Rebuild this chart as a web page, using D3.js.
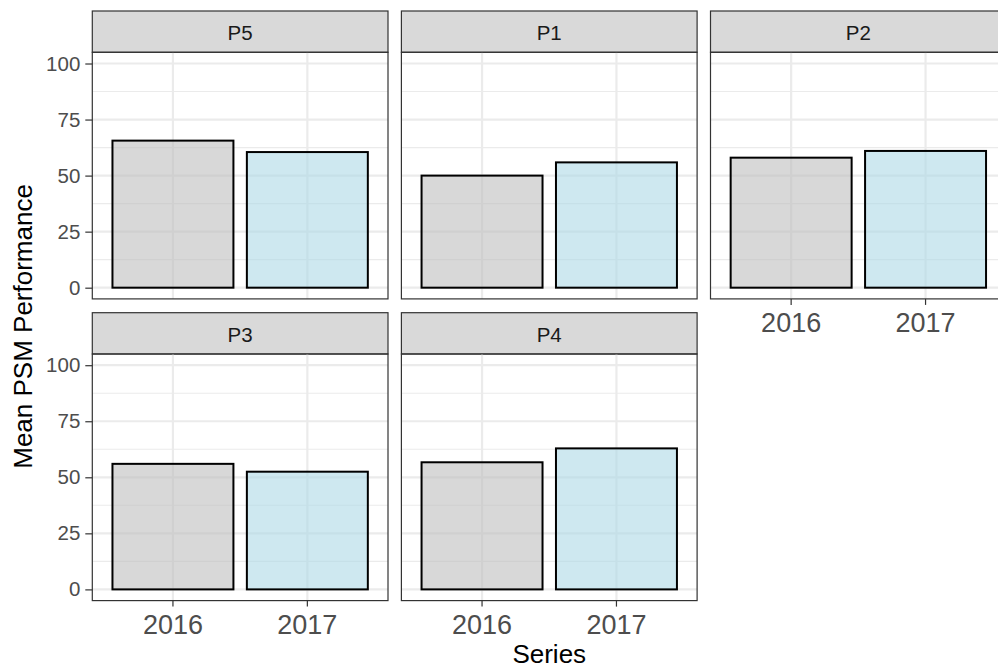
<!DOCTYPE html>
<html>
<head>
<meta charset="utf-8">
<title></title>
<script src="https://cdn.jsdelivr.net/npm/d3@7"></script>
<style>
  body { margin: 0; background: #fff; }
  text { font-family: "Liberation Sans", Arial, sans-serif; }
</style>
</head>
<body>
<svg id="svg"></svg>
<script>
var width = 998;
var height = 670;

// data
const panels = ["P5", "P1", "P2", "P3", "P4"];
const years = ["2016", "2017"];
const values2016 = [65.6, 50.0, 58.0, 56.0, 56.7];
const values2017 = [60.5, 55.9, 61.0, 52.5, 62.9];
const yTicks = [0, 25, 50, 75, 100];
const yMinor = [12.5, 37.5, 62.5, 87.5];
const fills = ["#bebebe", "#add8e6"];

// facet layout (3 columns, 2 rows)
const ncol = 3;
const left0 = 92.3, top0 = 11;
const panelW = 295.7, panelH = 246.6;
const colGap = 13.4, rowStep = 301.7;
const stripH = 41.3;

const svg = d3.select('#svg')
    .attr('width', width)
    .attr('height', height);

const x = d3.scaleBand()
    .domain(years)
    .range([0, panelW])
    .paddingInner(0.1)
    .paddingOuter(0.15);

const y = d3.scaleLinear()
    .domain([-5, 105])
    .range([panelH, 0]);

panels.forEach(function (p, i) {
    var col = i % ncol, row = Math.floor(i / ncol);
    var px = left0 + col * (panelW + colGap);
    var py = top0 + row * rowStep;

    // strip
    var s = svg.append('g').attr('transform', 'translate(' + px + ',' + py + ')');
    s.append('rect')
        .attr('width', panelW).attr('height', stripH)
        .attr('fill', '#d9d9d9')
        .attr('stroke', '#333333').attr('stroke-width', 1.2);
    s.append('text')
        .attr('x', panelW / 2).attr('y', stripH / 2 + 1)
        .attr('text-anchor', 'middle')
        .attr('dominant-baseline', 'central')
        .attr('font-size', 20.5)
        .attr('fill', '#1a1a1a')
        .text(p);

    var g = svg.append('g').attr('transform', 'translate(' + px + ',' + (py + stripH) + ')');

    // grid
    g.selectAll('.minor').data(yMinor).join('line')
        .attr('x1', 0).attr('x2', panelW)
        .attr('y1', d => y(d)).attr('y2', d => y(d))
        .attr('stroke', '#ebebeb').attr('stroke-width', 1.1);
    g.selectAll('.major').data(yTicks).join('line')
        .attr('x1', 0).attr('x2', panelW)
        .attr('y1', d => y(d)).attr('y2', d => y(d))
        .attr('stroke', '#ebebeb').attr('stroke-width', 2.2);
    g.selectAll('.vmajor').data(years).join('line')
        .attr('x1', d => x(d) + x.bandwidth() / 2).attr('x2', d => x(d) + x.bandwidth() / 2)
        .attr('y1', 0).attr('y2', panelH)
        .attr('stroke', '#ebebeb').attr('stroke-width', 2.2);

    // bars
    var vals = [values2016[i], values2017[i]];
    g.selectAll('.bar').data(years).join('rect')
        .attr('x', d => x(d))
        .attr('width', x.bandwidth())
        .attr('y', (d, j) => y(vals[j]))
        .attr('height', (d, j) => y(0) - y(vals[j]))
        .attr('fill', (d, j) => fills[j])
        .attr('fill-opacity', 0.6)
        .attr('stroke', '#000').attr('stroke-width', 2);

    // border
    g.append('rect')
        .attr('width', panelW).attr('height', panelH)
        .attr('fill', 'none')
        .attr('stroke', '#333333').attr('stroke-width', 1.2);

    // y axis on first column
    if (col === 0) {
        var ya = g.append('g').call(d3.axisLeft(y).tickValues(yTicks).tickSize(7).tickPadding(5));
        ya.select('.domain').remove();
        ya.selectAll('line').attr('stroke', '#333333').attr('stroke-width', 1.2);
        ya.selectAll('text').attr('font-size', 20.5).attr('fill', '#4d4d4d')
            .attr('font-family', '"Liberation Sans", Arial, sans-serif');
    }

    // x axis on bottom of each column
    var below = i + ncol;
    if (below >= panels.length) {
        var xa = g.append('g').attr('transform', 'translate(0,' + panelH + ')')
            .call(d3.axisBottom(x).tickSize(6).tickPadding(8));
        xa.select('.domain').remove();
        xa.selectAll('line').attr('stroke', '#333333').attr('stroke-width', 1.2);
        xa.selectAll('text').attr('font-size', 27).attr('fill', '#4d4d4d')
            .attr('font-family', '"Liberation Sans", Arial, sans-serif');
    }
});

// axis titles
svg.append('text')
    .attr('transform', 'translate(32,' + (top0 + stripH + (rowStep + panelH) / 2) + ') rotate(-90)')
    .attr('text-anchor', 'middle')
    .attr('font-size', 26)
    .attr('fill', '#000')
    .text('Mean PSM Performance');

svg.append('text')
    .attr('x', left0 + (ncol * panelW + (ncol - 1) * colGap) / 2)
    .attr('y', 663)
    .attr('text-anchor', 'middle')
    .attr('font-size', 26)
    .attr('fill', '#000')
    .text('Series');
</script>
</body>
</html>
